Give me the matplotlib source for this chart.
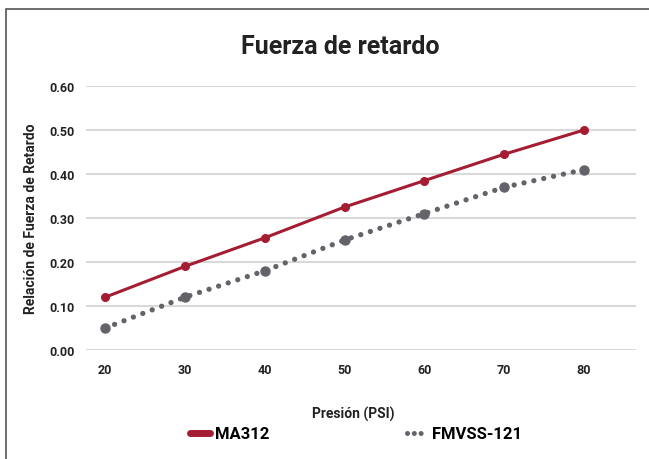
import matplotlib.pyplot as plt
from matplotlib.lines import Line2D
from matplotlib.patches import Rectangle

presion = [20, 30, 40, 50, 60, 70, 80]
ma312 = [0.12, 0.19, 0.255, 0.325, 0.385, 0.445, 0.50]
fmvss = [0.05, 0.12, 0.18, 0.25, 0.31, 0.37, 0.41]
yticks = [0.0, 0.1, 0.2, 0.3, 0.4, 0.5, 0.6]

red = "#a51d32"
gray = "#636369"
txt = "#222222"

plt.rcParams['font.family'] = ['Roboto', 'DejaVu Sans']
plt.rcParams['font.weight'] = 'bold'
plt.rcParams['axes.labelweight'] = 'bold'

fig = plt.figure(figsize=(6.49, 4.6), dpi=100)
fig.patches.append(Rectangle((6/649, -0.1), 1.2, 1 - 10/460 + 0.1,
                             transform=fig.transFigure, fill=False,
                             edgecolor="#555555", lw=1.2))

ax = fig.add_axes([86/649, 1 - 351/460, 550/649, 264/460])

ax.plot(presion, ma312, color=red, lw=2.2, marker='o', ms=5.5, label='MA312')
ax.plot(presion, fmvss, color=gray, lw=3.8, ls=(0, (0.01, 1.9)),
        dash_capstyle='round', marker='o', ms=6.5, label='FMVSS-121')

ax.set_xlim(17.6, 86.5)
ax.set_ylim(0, 0.6)
ax.set_yticks(yticks)
ax.set_yticklabels(['%.2f' % v for v in yticks])
ax.set_xticks(presion)
ax.grid(axis='y', color='#d9d9d9', lw=1.5)
ax.set_axisbelow(True)
for s in ax.spines.values():
    s.set_visible(False)
ax.tick_params(length=0, labelsize=9, colors=txt)
ax.tick_params(axis='x', pad=9)
ax.tick_params(axis='y', pad=8)

ax.set_xlabel('Presión (PSI)', fontsize=10, color=txt, labelpad=22)
ax.xaxis.label.set_x(0.485)
ax.set_ylabel('Relación de Fuerza de Retardo', fontsize=10, color=txt, labelpad=8)
fig.text(0.525, 1 - 47/460, 'Fuerza de retardo', ha='center', va='center',
         fontsize=18, color=txt)

handles = [Line2D([0], [0], color=red, lw=5, solid_capstyle='round'),
           Line2D([0], [0], color=gray, lw=3.6, ls=(0, (0.01, 1.35)), dash_capstyle='round')]
fig.legend(handles, ['MA312', 'FMVSS-121'], loc='center', ncol=2,
           bbox_to_anchor=(356/649, 1 - 435/460), frameon=False, fontsize=12,
           handlelength=1.15, handletextpad=0.3, columnspacing=8.3)

fig.savefig('out.png', dpi=100)
